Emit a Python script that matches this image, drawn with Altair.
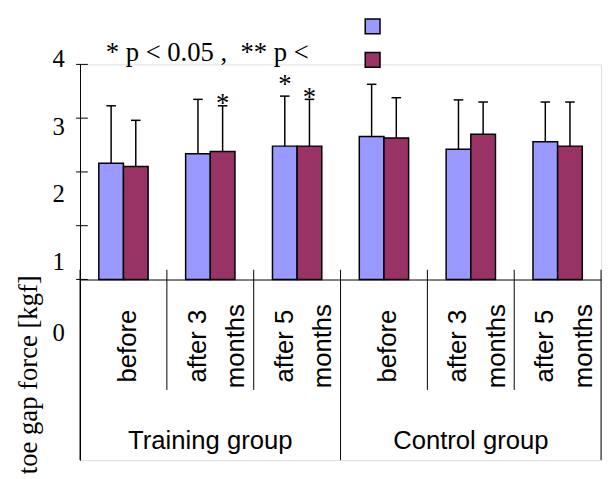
import json
import altair as alt
import pandas as pd

# ---- data ----
group_names = ["Training group", "Control group"]
periods = ["before", "after 3 months", "after 5 months"]
series_names = ["Series 1", "Series 2"]
series_colors = ["#9999FF", "#993366"]
series1_mean = [2.16, 2.34, 2.48, 2.66, 2.42, 2.56]
series1_sd = [1.07, 1.01, 0.93, 0.97, 0.92, 0.74]
series2_mean = [2.10, 2.38, 2.48, 2.63, 2.70, 2.48]
series2_sd = [0.86, 0.85, 0.87, 0.75, 0.60, 0.82]
y_ticks = [0, 1, 2, 3, 4]
star_cat = [1, 2, 2]
star_series = [1, 0, 1]
star_y = [3.12, 3.46, 3.23]
star_text = ["*", "*", "*"]
note_text = "* p < 0.05 ,\u2002** p <"
y_title = "toe gap force [kgf]"

# ---- tables ----
rows = []
for i in range(6):
    for s, (m, sd) in enumerate([(series1_mean[i], series1_sd[i]), (series2_mean[i], series2_sd[i])]):
        rows.append({"cat": i, "s": s, "series": series_names[s], "mean": m, "sd": sd})
bars_df = pd.DataFrame(rows)

div_df = pd.DataFrame({"b": list(range(7)), "long": [1, 0, 0, 1, 0, 0, 1]})
tick_df = pd.DataFrame({"v": y_ticks})
star_df = pd.DataFrame({"cat": star_cat, "s": star_series, "y": star_y, "t": star_text})
grp_df = pd.DataFrame({"g": [0, 1], "name": group_names})
note_df = pd.DataFrame({"t": [note_text]})

label_lines = [p.rsplit(" ", 1) if " " in p else [p] for p in periods] * 2
label_expr = json.dumps(label_lines) + "[floor(datum.value)]"

HALF = 0.142  # half bar width in category units
xscale = alt.Scale(domain=[0, 6], nice=False, zero=False)
yscale = alt.Scale(domain=[-3.36, 4], nice=False, zero=False)

xaxis = alt.Axis(
    values=[0.5, 1.5, 2.5, 3.5, 4.5, 5.5], labelExpr=label_expr, title="",
    labelAngle=270, labelAlign="center", labelBaseline="middle",
    labelPadding=67, labelLineHeight=39,
    labelOffset={"condition": {"test": "datum.value % 3 == 0.5", "value": 4}, "value": -13},
    labelFont="Liberation Sans", labelFontSize=26, labelColor="black",
    ticks=False, tickSize=0, domain=True, domainColor="black", domainWidth=1,
    offset=-183, labelOverlap=False, labelFlush=False, labelBound=False, grid=False,
)
yaxis = alt.Axis(
    values=y_ticks, format="d", title=y_title, titleFont="Liberation Serif", titleFontSize=27,
    titleFontWeight="normal", titleColor="black", titleAngle=270, titleAlign="center",
    titleBaseline="alphabetic", titleX=-44, titleY=314,
    ticks=False, tickSize=0, labelPadding=16, labelFont="Liberation Serif",
    labelFontSize=25, labelColor="black", domainColor="black", domainWidth=1, grid=False,
    labelOffset={"condition": [
        {"test": "datum.value === 0", "value": 54},
        {"test": "datum.value === 1", "value": 36},
        {"test": "datum.value === 2", "value": 22},
        {"test": "datum.value === 3", "value": 9},
    ], "value": -6},
)

calc = dict(
    center=f"datum.cat + 0.5 + (datum.s == 0 ? -{HALF} : {HALF})",
)

base = alt.Chart(bars_df).transform_calculate(**calc).transform_calculate(
    x0=f"datum.center - {HALF}", x1=f"datum.center + {HALF}",
    upper="datum.mean + datum.sd", capL="datum.center - 0.055", capR="datum.center + 0.055",
)

bars = base.mark_bar(stroke="black", strokeWidth=1.5).encode(
    x=alt.X("x0:Q", scale=xscale, axis=xaxis),
    x2="x1:Q",
    y=alt.Y("mean:Q", scale=yscale, axis=yaxis),
    y2=alt.datum(0),
    color=alt.Color(
        "series:N",
        scale=alt.Scale(domain=series_names, range=series_colors),
        legend=alt.Legend(
            title=None, orient="none", legendX=288, legendY=-47, padding=0,
            symbolType="square", symbolSize=225, symbolStrokeColor="black",
            symbolStrokeWidth=1.5, symbolOpacity=1, rowPadding=13,
            labelFontSize=10, labelOpacity=0,
        ),
    ),
)

err = base.mark_rule(color="black", strokeWidth=1.5).encode(
    x=alt.X("center:Q", title=""), y=alt.Y("mean:Q", title=y_title), y2="upper:Q"
)
caps = base.mark_rule(color="black", strokeWidth=1.5).encode(
    x=alt.X("capL:Q", title=""), x2="capR:Q", y=alt.Y("upper:Q", title=y_title)
)

dividers = alt.Chart(div_df).transform_calculate(
    top="0.18", bottom="datum.long == 1 ? -3.36 : -2.055"
).mark_rule(color="black", strokeWidth=1).encode(
    x=alt.X("b:Q", title=""), y=alt.Y("top:Q", title=y_title), y2="bottom:Q"
)

yticks = alt.Chart(tick_df).transform_calculate(
    xa="-0.045", xb="0.09"
).mark_rule(color="black", strokeWidth=1).encode(
    x=alt.X("xa:Q", title=""), x2="xb:Q", y=alt.Y("v:Q", title=y_title)
)

stars = alt.Chart(star_df).transform_calculate(
    center=f"datum.cat + 0.5 + (datum.s == 0 ? -{HALF} : {HALF})"
).mark_text(font="Liberation Serif", fontSize=27, baseline="alphabetic", align="center", color="black").encode(
    x=alt.X("center:Q", title=""), y=alt.Y("y:Q", title=y_title), text="t:N"
)

groups = alt.Chart(grp_df).transform_calculate(
    gx="datum.g * 3 + 1.5"
).mark_text(font="Liberation Sans", fontSize=26, baseline="alphabetic", align="center", color="black").encode(
    x=alt.X("gx:Q", title=""), y=alt.value(390), text="name:N"
)

note = alt.Chart(note_df).mark_text(
    font="Liberation Serif", fontSize=27, baseline="alphabetic", align="left", color="black"
).encode(x=alt.value(26), y=alt.value(-3), text="t:N")

chart = alt.layer(bars, err, caps, dividers, yticks, stars, groups, note).properties(
    width=528, height=401, autosize="none",
    padding={"left": 73, "top": 54, "right": 4, "bottom": 16},
).configure_view(stroke="transparent").configure(background="white")

chart.save("out.html", embed_options={"renderer": "svg", "actions": False})
